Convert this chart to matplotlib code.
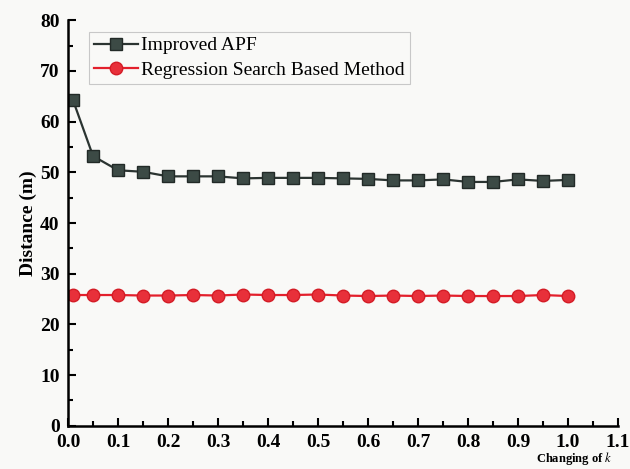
import matplotlib.pyplot as plt
from matplotlib.ticker import MultipleLocator

plt.rcParams['font.family'] = ['Liberation Serif', 'DejaVu Serif']
plt.rcParams['mathtext.fontset'] = 'stix'

# k values and path distances for both methods
k = [0.01, 0.05, 0.10, 0.15, 0.20, 0.25, 0.30, 0.35, 0.40, 0.45, 0.50,
     0.55, 0.60, 0.65, 0.70, 0.75, 0.80, 0.85, 0.90, 0.95, 1.00]
apf = [64.2, 53.2, 50.4, 50.1, 49.2, 49.2, 49.2, 48.8, 48.9, 48.9, 48.9,
       48.8, 48.7, 48.4, 48.4, 48.6, 48.1, 48.1, 48.6, 48.3, 48.5]
regression = [25.8, 25.8, 25.8, 25.7, 25.7, 25.8, 25.7, 25.9, 25.8, 25.8, 25.9,
              25.7, 25.6, 25.7, 25.6, 25.7, 25.6, 25.6, 25.6, 25.8, 25.6]

fig = plt.figure(figsize=(6.3, 4.69), dpi=100, facecolor='#f9f9f7')
ax = fig.add_axes([0.108, 0.092, 0.873, 0.865], facecolor='#f9f9f7')

ax.plot(k, apf, color='#2b3431', lw=1.6, marker='s', ms=8,
        mfc='#3c4a45', mec='#222a27', label='Improved APF')
ax.plot(k, regression, color='#e3202c', lw=1.6, marker='o', ms=9,
        mfc='#e8303a', mec='#d41c26', label='Regression Search Based Method')

ax.set_xlim(0, 1.1)
ax.set_ylim(0, 80)
ax.xaxis.set_major_locator(MultipleLocator(0.1))
ax.xaxis.set_minor_locator(MultipleLocator(0.05))
ax.yaxis.set_major_locator(MultipleLocator(10))
ax.yaxis.set_minor_locator(MultipleLocator(5))
ax.tick_params(which='both', direction='in', width=1.5, labelsize=14)
ax.tick_params(which='major', length=6)
ax.tick_params(which='minor', length=3.5)
ax.tick_params(axis='x', pad=6)
ax.tick_params(axis='y', pad=6)
for lbl in ax.get_xticklabels() + ax.get_yticklabels():
    lbl.set_fontweight('bold')

for side in ['top', 'right']:
    ax.spines[side].set_visible(False)
for side in ['left', 'bottom']:
    ax.spines[side].set_linewidth(1.8)

ax.set_ylabel('Distance (m)', fontsize=14, fontweight='bold', labelpad=2)
fig.text(0.972, 0.004, 'Changing of $k$', ha='right', va='bottom',
         fontsize=9, fontweight='bold')

leg = ax.legend(loc='upper left', bbox_to_anchor=(0.02, 0.995), fontsize=14,
                frameon=True, fancybox=False, edgecolor='#c8c8c8',
                facecolor='#f9f9f7', framealpha=1, handlelength=2.3,
                handletextpad=0.15, borderpad=0.25, labelspacing=0.35)
leg.get_frame().set_linewidth(0.8)

fig.savefig('out.png', dpi=100, facecolor=fig.get_facecolor())
